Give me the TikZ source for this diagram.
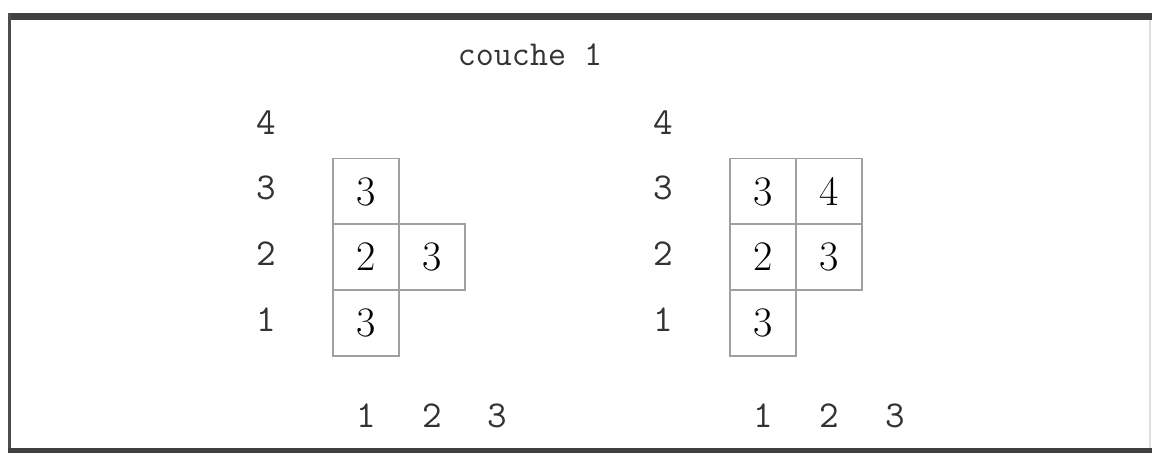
\documentclass[tikz,border=0pt]{standalone}
\usepackage{fontspec}
\tikzset{
  cell/.style={draw=gray!75,line width=.8pt,minimum size=33pt,inner sep=0pt,font=\fontsize{21}{23}\selectfont},
  axis/.style={inner sep=0pt,font=\ttfamily\fontsize{19}{21}\selectfont,text=black!80}
}
\begin{document}
\begin{tikzpicture}[x=.5pt,y=-.5pt]
\path[use as bounding box] (0,0) rectangle (1152,454);
% frame
\fill[black!75] (8,13) rectangle (1152,20);
\fill[black!70] (8,13) rectangle (11,452);
\fill[black!75] (8,448) rectangle (1152,453);
\draw[gray!25,line width=.6pt] (1150,20) -- (1150,448);
\node[axis,font=\ttfamily\fontsize{17.5}{19}\selectfont] (title) at (530,55) {couche 1};
% left grid
\node[axis] (lrow4) at (266,123) {4};
\node[axis] (lrow3) at (266,188) {3};
\node[axis] (lrow2) at (266,254) {2};
\node[axis] (lrow1) at (266,320) {1};
\node[cell] (l13) at (366,191.5) {3};
\node[cell] (l12) at (366,257) {2};
\node[cell] (l22) at (432,257) {3};
\node[cell] (l11) at (366,323) {3};
\node[axis] (lcol1) at (366,416) {1};
\node[axis] (lcol2) at (432,416) {2};
\node[axis] (lcol3) at (497,416) {3};
% right grid
\node[axis] (rrow4) at (663,123) {4};
\node[axis] (rrow3) at (663,188) {3};
\node[axis] (rrow2) at (663,254) {2};
\node[axis] (rrow1) at (663,320) {1};
\node[cell] (r13) at (763,191.5) {3};
\node[cell] (r23) at (829,191.5) {4};
\node[cell] (r12) at (763,257) {2};
\node[cell] (r22) at (829,257) {3};
\node[cell] (r11) at (763,323) {3};
\node[axis] (rcol1) at (763,416) {1};
\node[axis] (rcol2) at (829,416) {2};
\node[axis] (rcol3) at (895,416) {3};
\end{tikzpicture}
\end{document}
